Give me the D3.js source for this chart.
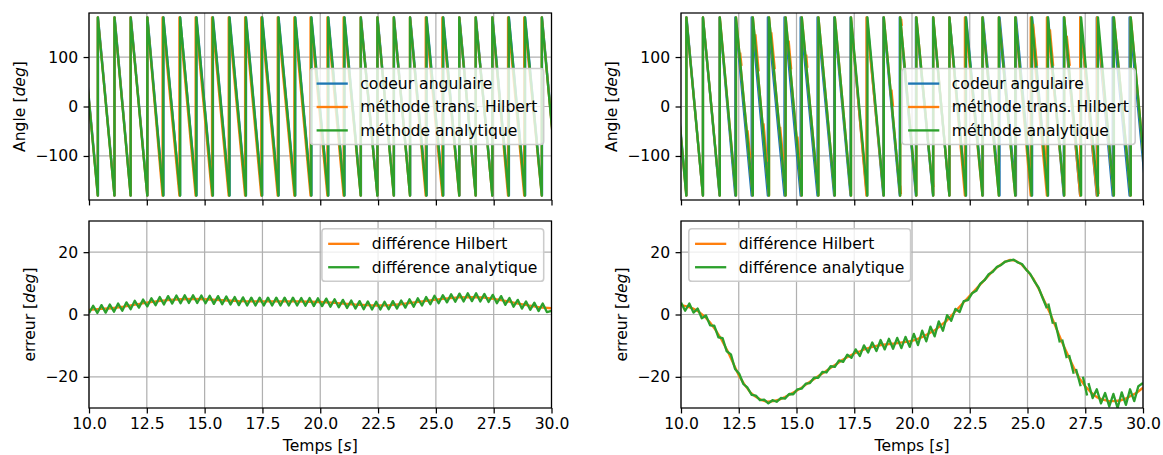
<!DOCTYPE html>
<html>
<head>
<meta charset="utf-8">
<script src="https://cdn.jsdelivr.net/npm/d3@7"></script>
<style>
  body { margin: 0; background: #fff; }
  svg { font-family: "DejaVu Sans", sans-serif; }
</style>
</head>
<body>
<div id="chart"></div>
<script>
// ---- data ----
const timeDomain = [10, 30];
const timeTicks = [10, 12.5, 15, 17.5, 20, 22.5, 25, 27.5, 30];
const angleTicks = [-100, 0, 100];
const errorTicks = [-20, 0, 20];

// times (s) where each angle wraps from -180 back up to +180
const leftCodeurWraps = [9.67, 10.39, 11.11, 11.81, 12.53, 13.22, 13.94, 14.65, 15.36, 16.08, 16.79, 17.49, 18.20, 18.92, 19.62, 20.35, 21.05, 21.76, 22.48, 23.19, 23.89, 24.60, 25.32, 26.02, 26.73, 27.45, 28.16, 28.86, 29.59, 30.30];
const leftHilbertWraps = [9.66, 10.38, 11.10, 11.80, 12.52, 13.18, 13.91, 14.61, 15.32, 16.04, 16.75, 17.45, 18.16, 18.88, 19.58, 20.31, 21.01, 21.75, 22.47, 23.18, 23.88, 24.56, 25.28, 26.01, 26.72, 27.44, 28.12, 28.82, 29.58, 30.29];
const leftAnalytiqueWraps = [9.66, 10.38, 11.10, 11.80, 12.52, 13.21, 13.94, 14.64, 15.35, 16.07, 16.78, 17.48, 18.19, 18.91, 19.61, 20.34, 21.04, 21.75, 22.47, 23.18, 23.88, 24.59, 25.31, 26.01, 26.72, 27.44, 28.15, 28.85, 29.58, 30.29];

const rightCodeurWraps = [9.53, 10.24, 10.95, 11.67, 12.35, 13.06, 13.76, 14.48, 15.18, 15.91, 16.63, 17.34, 18.05, 18.76, 19.47, 20.17, 20.91, 21.62, 22.34, 23.07, 23.79, 24.50, 25.20, 25.89, 26.57, 27.28, 28.00, 28.69, 29.42, 30.14];
const rightHilbertWraps = [9.52, 10.23, 10.95, 11.68, 12.38, 13.11, 13.81, 14.53, 15.23, 15.95, 16.66, 17.36, 18.03, 18.78, 19.49, 20.19, 20.92, 21.62, 22.29, 23.05, 23.76, 24.47, 25.14, 25.84, 26.59, 27.28, 28.01, 28.74, 29.47, 30.18];
const rightAnalytiqueWraps = [9.52, 10.23, 10.95, 11.68, 12.38, 13.11, 13.81, 14.53, 15.23, 15.95, 16.66, 17.36, 18.07, 18.78, 19.49, 20.19, 20.92, 21.62, 22.33, 23.05, 23.76, 24.47, 25.18, 25.88, 26.59, 27.32, 28.05, 28.74, 29.47, 30.18];
// short pieces where the Hilbert angle strays off the other traces: [t0, a0, t1, a1]
const rightHilbertGlitches = [[12.56, 109, 12.62, 82], [12.88, -48, 13.00, -105], [13.22, 146, 13.36, 71], [13.57, -34, 13.72, -112], [13.91, 150, 14.06, 75], [14.29, -41, 14.43, -109], [14.66, 133, 14.77, 75], [15.04, -61, 15.12, -105], [15.42, 105, 15.47, 78], [19.11, 34, 19.18, 0], [19.49, -160, 19.52, -177], [19.53, 177, 19.56, 163], [20.87, -136, 20.93, -163], [25.24, 167, 25.41, 82], [25.72, -75, 25.83, -136], [25.97, 156, 26.11, 82], [26.70, 143, 26.83, 82], [27.95, -109, 28.08, -177]];

// error curves [time, deg]; null marks a break in the trace
const leftErrHilbert = [[10.0, 1.5], [10.5, 1.8], [11.0, 2.0], [11.5, 2.5], [12.0, 3.2], [12.5, 3.8], [13.0, 4.3], [13.5, 4.7], [14.0, 4.9], [14.5, 5.0], [15.0, 4.9], [15.5, 4.7], [16.0, 4.5], [16.5, 4.3], [17.0, 4.2], [17.5, 4.2], [18.0, 4.2], [18.5, 4.2], [19.0, 4.2], [19.5, 4.1], [20.0, 4.0], [20.5, 3.8], [21.0, 3.5], [21.5, 3.2], [22.0, 3.0], [22.5, 2.9], [23.0, 3.0], [23.5, 3.3], [24.0, 3.8], [24.5, 4.3], [25.0, 4.8], [25.5, 5.2], [26.0, 5.5], [26.5, 5.6], [27.0, 5.5], [27.5, 5.0], [28.0, 4.4], [28.5, 3.6], [29.0, 2.9], [29.5, 2.3], [30.0, 2.0]];
const leftErrAnalytique = [[10.00, 0.4], [10.18, 2.8], [10.36, 0.5], [10.54, 3.0], [10.72, 0.6], [10.90, 3.2], [11.08, 0.9], [11.26, 3.5], [11.44, 1.2], [11.62, 3.9], [11.80, 1.7], [11.98, 4.4], [12.16, 2.2], [12.34, 4.8], [12.52, 2.6], [12.70, 5.2], [12.88, 3.0], [13.06, 5.6], [13.24, 3.2], [13.42, 5.9], [13.60, 3.5], [13.78, 6.1], [13.96, 3.6], [14.14, 6.2], [14.32, 3.7], [14.50, 6.2], [14.68, 3.7], [14.86, 6.1], [15.04, 3.6], [15.22, 6.0], [15.40, 3.4], [15.58, 5.9], [15.76, 3.3], [15.94, 5.8], [16.12, 3.2], [16.30, 5.6], [16.48, 3.0], [16.66, 5.5], [16.84, 2.9], [17.02, 5.4], [17.20, 2.9], [17.38, 5.4], [17.56, 2.9], [17.74, 5.4], [17.92, 2.9], [18.10, 5.4], [18.28, 2.9], [18.46, 5.4], [18.64, 2.9], [18.82, 5.4], [19.00, 2.9], [19.18, 5.3], [19.36, 2.8], [19.54, 5.3], [19.72, 2.7], [19.90, 5.2], [20.08, 2.7], [20.26, 5.1], [20.44, 2.5], [20.62, 4.9], [20.80, 2.3], [20.98, 4.7], [21.16, 2.1], [21.34, 4.5], [21.52, 1.9], [21.70, 4.3], [21.88, 1.7], [22.06, 4.2], [22.24, 1.6], [22.42, 4.1], [22.60, 1.6], [22.78, 4.1], [22.96, 1.7], [23.14, 4.3], [23.32, 1.9], [23.50, 4.5], [23.68, 2.2], [23.86, 4.9], [24.04, 2.5], [24.22, 5.2], [24.40, 2.9], [24.58, 5.6], [24.76, 3.3], [24.94, 6.0], [25.12, 3.6], [25.30, 6.2], [25.48, 3.9], [25.66, 6.5], [25.84, 4.1], [26.02, 6.7], [26.20, 4.2], [26.38, 6.8], [26.56, 4.3], [26.74, 6.8], [26.92, 4.2], [27.10, 6.6], [27.28, 4.0], [27.46, 6.3], [27.64, 3.6], [27.82, 5.9], [28.00, 3.1], [28.18, 5.3], [28.36, 2.5], [28.54, 4.7], [28.72, 1.9], [28.90, 4.2], [29.08, 1.5], [29.26, 3.8], [29.44, 1.1], [29.62, 3.5], [29.80, 0.8], [30.00, 1.2]];

const rightErrHilbert = [[10.00, 3.0], [10.25, 2.6], [10.50, 2.0], [10.75, 1.0], [11.00, -0.5], [11.25, -2.5], [11.50, -5.0], [11.75, -8.0], [12.00, -11.5], [12.25, -15.5], [12.50, -19.5], [12.75, -22.5], [13.00, -25.0], [13.25, -26.5], [13.50, -27.5], [13.75, -28.0], [14.00, -27.8], [14.25, -27.3], [14.50, -26.5], [14.75, -25.5], [15.00, -24.5], [15.25, -23.3], [15.50, -22.0], [15.75, -20.8], [16.00, -19.5], [16.25, -18.3], [16.50, -17.0], [16.75, -15.8], [17.00, -14.5], [17.25, -13.5], [17.50, -12.5], [17.75, -11.8], [18.00, -11.0], [18.25, -10.5], [18.50, -10.0], [18.75, -9.7], [19.00, -9.5], [19.25, -9.3], [19.50, -9.0], [19.75, -8.8], [20.00, -8.5], [20.25, -7.8], [20.50, -7.0], [20.75, -6.0], [21.00, -5.0], [21.25, -3.5], [21.50, -2.0], [21.75, 0.0], [22.00, 2.0], [22.25, 4.0], [22.50, 6.0], [22.75, 8.0], [23.00, 10.0], [23.25, 12.0], [23.50, 14.0], [23.75, 15.5], [24.00, 16.8], [24.25, 17.5], [24.50, 17.2], [24.75, 16.0], [25.00, 14.0], [25.25, 11.5], [25.50, 8.0], [25.75, 4.0], [26.00, 0.0], [26.25, -4.5], [26.50, -9.0], [26.75, -13.0], [27.00, -17.0], [27.25, -20.5], [27.50, -23.0], [27.75, -25.0], [28.00, -26.5], [28.25, -27.3], [28.50, -27.7], [28.75, -27.8], [29.00, -27.6], [29.25, -27.0], [29.50, -26.0], [29.75, -25.0], [30.00, -23.5]];
const rightErrAnalytique = [[10.00, 3.8], [10.18, 1.2], [10.36, 3.5], [10.54, 0.6], [10.72, 1.9], [10.90, -1.2], [11.08, -0.3], [11.26, -3.5], [11.44, -3.6], [11.62, -7.3], [11.80, -7.6], [11.98, -11.8], [12.16, -12.8], [12.34, -17.5], [12.52, -19.0], [12.70, -22.3], [12.88, -23.5], [13.06, -25.8], [13.24, -26.0], [13.42, -27.5], [13.60, -27.3], [13.78, -28.5], [13.96, -27.5], [14.14, -28.0], [14.32, -26.8], [14.50, -27.0], [14.68, -25.5], [14.86, -25.6], [15.04, -24.0], [15.22, -23.8], [15.40, -22.2], [15.58, -22.0], [15.76, -20.3], [15.94, -20.3], [16.12, -18.4], [16.30, -18.6], [16.48, -16.6], [16.66, -16.8], [16.84, -14.7], [17.02, -15.2], [17.20, -12.9], [17.38, -13.9], [17.56, -11.2], [17.74, -13.3], [17.92, -9.9], [18.10, -12.2], [18.28, -9.0], [18.46, -11.7], [18.64, -8.2], [18.82, -11.2], [19.00, -7.8], [19.18, -11.0], [19.36, -7.5], [19.54, -10.8], [19.72, -7.2], [19.90, -10.4], [20.08, -6.2], [20.26, -9.8], [20.44, -5.2], [20.62, -8.6], [20.80, -3.9], [20.98, -7.0], [21.16, -2.2], [21.34, -5.2], [21.52, -0.2], [21.70, -2.0], [21.88, 1.8], [22.06, 0.8], [22.24, 4.3], [22.42, 4.6], [22.60, 6.8], [22.78, 7.6], [22.96, 9.9], [23.14, 11.0], [23.32, 12.9], [23.50, 13.7], [23.68, 15.3], [23.86, 15.9], [24.04, 17.0], [24.22, 17.3], [24.40, 17.6], [24.58, 16.7], [24.76, 16.2], [24.94, 14.4], [25.12, 13.0], [25.30, 10.6], [25.48, 8.6], [25.66, 5.2], [25.84, 2.0], null, [25.90, 3.5], [26.10, -3.0], null, [26.20, -2.5], [26.40, -9.0], null, [26.50, -8.0], [26.70, -14.0], null, [26.80, -13.0], [27.00, -19.0], null, [27.10, -17.5], [27.30, -23.0], null, [27.40, -20.0], [27.58, -26.0], null, [27.64, -22.0], [27.82, -26.8], [28.00, -24.0], [28.18, -28.5], [28.36, -25.2], [28.54, -29.5], [28.72, -25.5], [28.90, -30.0], [29.08, -25.0], [29.26, -29.0], [29.44, -24.0], [29.62, -27.8], [29.80, -23.0], [30.00, -22.0]];

const angleLabels = ["codeur angulaire", "méthode trans. Hilbert", "méthode analytique"];
const errorLabels = ["différence Hilbert", "différence analytique"];

// ---- layout ----
const W = 1163, H = 455;
const fontSize = 15.6;
const pt = 1.555;               // one point in pixels for this figure
const colBlue = "#1f77b4", colOrange = "#ff7f0e", colGreen = "#2ca02c";
const cols = [{x0: 89, x1: 551.5}, {x0: 681, x1: 1143}];
const rows = [{y0: 13, y1: 200}, {y0: 221, y1: 408}];

const svg = d3.select("#chart")
  .append("svg")
    .attr("width", W)
    .attr("height", H);

// sawtooth: from +180 at one wrap down to -180 at the next, then jump
function sawPoints(wraps) {
  const pts = [];
  for (let i = 0; i < wraps.length - 1; i++) {
    pts.push([wraps[i], 180]);
    pts.push([wraps[i + 1], -180]);
  }
  return pts;
}

function drawPanel(id, col, row, yDomain, yTicks, showX, ylabel) {
  const x = d3.scaleLinear().domain(timeDomain).range([col.x0, col.x1]);
  const y = d3.scaleLinear().domain(yDomain).range([row.y1, row.y0]);
  const g = svg.append("g");

  g.append("clipPath").attr("id", "clip" + id)
    .append("rect")
      .attr("x", col.x0).attr("y", row.y0)
      .attr("width", col.x1 - col.x0).attr("height", row.y1 - row.y0);

  // grid
  g.append("g").selectAll("line").data(timeTicks).join("line")
    .attr("x1", d => x(d)).attr("x2", d => x(d))
    .attr("y1", row.y0).attr("y2", row.y1)
    .attr("stroke", "#b0b0b0").attr("stroke-width", 0.8 * pt);
  g.append("g").selectAll("line").data(yTicks).join("line")
    .attr("x1", col.x0).attr("x2", col.x1)
    .attr("y1", d => y(d)).attr("y2", d => y(d))
    .attr("stroke", "#b0b0b0").attr("stroke-width", 0.8 * pt);

  // axes
  const xAxis = g.append("g")
    .attr("transform", `translate(0,${row.y1})`)
    .call(d3.axisBottom(x).tickValues(timeTicks).tickSize(3.5 * pt).tickPadding(3.2 * pt)
      .tickFormat(showX ? d3.format(".1f") : () => ""));
  const yAxis = g.append("g")
    .attr("transform", `translate(${col.x0},0)`)
    .call(d3.axisLeft(y).tickValues(yTicks).tickSize(3.5 * pt).tickPadding(3.5 * pt)
      .tickFormat(d => d < 0 ? "\u2212" + Math.abs(d) : d));
  [xAxis, yAxis].forEach(a => {
    a.select(".domain").remove();
    a.selectAll(".tick line").attr("stroke", "#000").attr("stroke-width", 0.8 * pt);
    a.selectAll("text")
      .attr("fill", "#000")
      .style("font-family", "DejaVu Sans")
      .style("font-size", fontSize + "px");
  });

  // y label, placed left of the widest tick label
  let maxW = 0;
  yAxis.selectAll("text").each(function() { maxW = Math.max(maxW, this.getComputedTextLength()); });
  const lx = col.x0 - 7 * pt - maxW - 4 * pt - 3.7;
  const yl = g.append("text")
    .attr("transform", `translate(${lx},${(row.y0 + row.y1) / 2}) rotate(-90)`)
    .attr("text-anchor", "middle")
    .style("font-size", fontSize + "px");
  yl.append("tspan").text(ylabel + " [");
  yl.append("tspan").attr("font-style", "italic").text("deg");
  yl.append("tspan").text("]");

  return {g, x, y, clip: "url(#clip" + id + ")"};
}

function drawLine(p, pts, color) {
  p.g.append("path")
    .datum(pts)
    .attr("clip-path", p.clip)
    .attr("fill", "none")
    .attr("stroke", color)
    .attr("stroke-width", 1.5 * pt)
    .attr("stroke-linejoin", "round")
    .attr("d", d3.line().defined(d => d !== null).x(d => p.x(d[0])).y(d => p.y(d[1])));
}

function drawSpines(p, col, row) {
  p.g.append("rect")
    .attr("x", col.x0).attr("y", row.y0)
    .attr("width", col.x1 - col.x0).attr("height", row.y1 - row.y0)
    .attr("fill", "none").attr("stroke", "#000").attr("stroke-width", 0.8 * pt);
}

function drawLegend(p, col, row, labels, colors, loc) {
  const pad = 0.4 * fontSize, handle = 2 * fontSize, gap = 0.8 * fontSize;
  const textH = fontSize, spacing = 0.5 * fontSize, axPad = 0.5 * fontSize;
  const lg = p.g.append("g");
  const texts = labels.map(l => lg.append("text").style("font-size", fontSize + "px").text(l));
  const tw = d3.max(texts, t => t.node().getComputedTextLength());
  const bw = pad * 2 + handle + gap + tw;
  const bh = pad * 2 + labels.length * textH + (labels.length - 1) * spacing + 1;
  let bx, by;
  if (loc === "upper right") { bx = col.x1 - axPad - bw; by = row.y0 + axPad; }
  else if (loc === "upper left") { bx = col.x0 + axPad; by = row.y0 + axPad; }
  else { bx = col.x1 - axPad - bw; by = (row.y0 + row.y1) / 2 - bh / 2; }
  lg.insert("rect", "text")
    .attr("x", bx).attr("y", by).attr("width", bw).attr("height", bh)
    .attr("rx", 0.2 * fontSize)
    .attr("fill", "#fff").attr("fill-opacity", 0.8)
    .attr("stroke", "#cccccc").attr("stroke-width", pt);
  labels.forEach((l, i) => {
    const cy = by + pad + textH / 2 + 1 + i * (textH + spacing);
    lg.append("line")
      .attr("x1", bx + pad).attr("x2", bx + pad + handle)
      .attr("y1", cy).attr("y2", cy)
      .attr("stroke", colors[i]).attr("stroke-width", 1.5 * pt);
    texts[i].attr("x", bx + pad + handle + gap).attr("y", cy).attr("dy", "0.35em");
  });
}

// ---- top left ----
const p1 = drawPanel("a", cols[0], rows[0], [-189, 189], angleTicks, false, "Angle");
drawLine(p1, sawPoints(leftCodeurWraps), colBlue);
drawLine(p1, sawPoints(leftHilbertWraps), colOrange);
drawLine(p1, sawPoints(leftAnalytiqueWraps), colGreen);
drawSpines(p1, cols[0], rows[0]);
drawLegend(p1, cols[0], rows[0], angleLabels, [colBlue, colOrange, colGreen], "center right");

// ---- top right ----
const p2 = drawPanel("b", cols[1], rows[0], [-189, 189], angleTicks, false, "Angle");
drawLine(p2, sawPoints(rightCodeurWraps), colBlue);
drawLine(p2, sawPoints(rightHilbertWraps), colOrange);
rightHilbertGlitches.forEach(s => drawLine(p2, [[s[0], s[1]], [s[2], s[3]]], colOrange));
drawLine(p2, sawPoints(rightAnalytiqueWraps), colGreen);
drawSpines(p2, cols[1], rows[0]);
drawLegend(p2, cols[1], rows[0], angleLabels, [colBlue, colOrange, colGreen], "center right");

// ---- bottom left ----
const p3 = drawPanel("c", cols[0], rows[1], [-30, 30], errorTicks, true, "erreur");
drawLine(p3, leftErrHilbert, colOrange);
drawLine(p3, leftErrAnalytique, colGreen);
drawSpines(p3, cols[0], rows[1]);
drawLegend(p3, cols[0], rows[1], errorLabels, [colOrange, colGreen], "upper right");

// ---- bottom right ----
const p4 = drawPanel("d", cols[1], rows[1], [-30, 30], errorTicks, true, "erreur");
drawLine(p4, rightErrHilbert, colOrange);
drawLine(p4, rightErrAnalytique, colGreen);
drawSpines(p4, cols[1], rows[1]);
drawLegend(p4, cols[1], rows[1], errorLabels, [colOrange, colGreen], "upper left");

// x labels
[cols[0], cols[1]].forEach(c => {
  const t = svg.append("text")
    .attr("x", (c.x0 + c.x1) / 2)
    .attr("y", 450.5)
    .attr("text-anchor", "middle")
    .style("font-size", fontSize + "px");
  t.append("tspan").text("Temps [");
  t.append("tspan").attr("font-style", "italic").text("s");
  t.append("tspan").text("]");
});
</script>
</body>
</html>
